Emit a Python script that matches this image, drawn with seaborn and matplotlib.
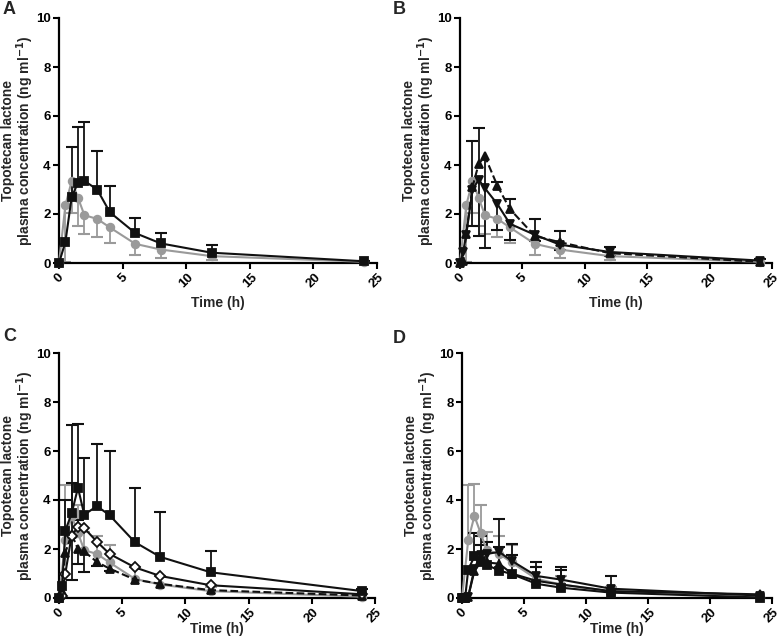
import numpy as np
import matplotlib
matplotlib.use("Agg")
import matplotlib.pyplot as plt
import seaborn as sns

sns.set_theme(style="ticks")
plt.rcParams['font.family'] = ['Liberation Sans', 'DejaVu Sans']
plt.rcParams['font.weight'] = 'bold'

N = np.nan
GREY = '#9a9a9a'
BLACK = '#111111'

# Time points (h)
t_ref = [0, 0.5, 1, 1.5, 2, 3, 4, 6, 8, 12, 24]
t_full = [0, 0.25, 0.5, 1, 1.5, 2, 3, 4, 6, 8, 12, 24]

# Reference series (grey circles), shared by all panels
ref_mean = [0, 2.35, 3.35, 2.65, 1.95, 1.8, 1.45, 0.78, 0.55, 0.28, 0.05]
ref_low = [N, 0.05, 2.05, 1.5, 1.2, 1.07, 0.8, 0.33, 0.22, 0.12, N]
ref_high = [N, 4.6, 4.65, 3.8, 2.7, 2.55, 2.15, 1.25, 0.9, 0.45, N]

# Panel A
a_sq = [0, 0.85, 2.7, 3.28, 3.35, 3.0, 2.07, 1.22, 0.8, 0.42, 0.07]
a_sq_high = [N, N, 4.75, 5.55, 5.77, 4.57, 3.15, 1.83, 1.22, 0.75, 0.1]

# Panel B
b_tri = [0, 0.1, 1.2, 3.1, 4.05, 4.35, 3.15, 2.2, 1.1, 0.85, 0.4, 0.05]
b_tri_high = [N, N, N, 5.0, 5.5, N, 3.3, 2.62, 1.8, 1.32, 0.65, 0.15]
b_tri_low = [N, N, N, N, N, 0.6, N, N, N, N, N, N]
b_inv = [0, 0.45, 1.15, 3.0, 3.4, 3.05, 2.4, 1.6, 1.15, 0.75, 0.45, 0.1]
b_inv_low = [N, N, N, 1.5, 1.1, N, 1.35, 0.95, 0.9, 0.55, 0.3, N]

# Panel C
c_sq = [0, 0.5, 2.75, 3.45, 4.5, 3.4, 3.75, 3.38, 2.28, 1.68, 1.05, 0.28]
c_sq_high = [N, N, 4.0, 7.05, 7.1, 5.7, 6.3, 6.0, 4.47, 3.5, 1.9, 0.35]
c_dia = [0, 0.1, 1.0, 2.55, 2.9, 2.85, 2.3, 1.8, 1.25, 0.9, 0.52, 0.15]
c_dia_high = [N, N, N, 4.7, 3.2, N, N, N, N, N, N, N]
c_tri = [0, 0.3, 1.85, 2.6, 2.0, 1.9, 1.47, 1.2, 0.75, 0.58, 0.32, 0.1]
c_tri_low = [N, N, N, 0.73, 1.4, 1.07, 1.3, 1.1, N, N, N, N]

# Panel D
d_sq = [0, 0, 1.15, 1.7, 1.5, 1.35, 1.12, 0.98, 0.58, 0.42, 0.22, 0.02]
d_sq_high = [N, N, N, 2.65, 2.55, N, N, N, N, N, N, N]
d_inv = [0, 0, 0.05, 1.2, 1.75, 1.8, 1.88, 1.52, 0.9, 0.75, 0.38, 0.1]
d_inv_high = [N, N, N, N, N, N, 3.22, 2.2, 1.45, 1.25, 0.88, N]
d_tri = [0, 0, 0.05, 1.1, 1.45, 1.45, 1.4, 1.0, 0.7, 0.55, 0.28, 0.15]
d_tri_high = [N, N, N, N, 2.15, 2.3, 2.1, 1.75, 1.25, 1.15, N, N]

fig = plt.figure(figsize=(7.81, 6.43), dpi=100)
W, H = 781, 643

def make_ax(left, right, top, bottom):
    return fig.add_axes([left / W, 1 - bottom / H, (right - left) / W, (bottom - top) / H])

axA = make_ax(59, 377, 18, 263)
axB = make_ax(460, 772, 18, 263)
axC = make_ax(59, 375, 353, 598)
axD = make_ax(462, 772, 353, 598)


def bars(ax, t, mean, ends, color):
    t = np.asarray(t, float)
    m = np.asarray(mean, float)
    e = np.asarray(ends, float)
    ok = ~np.isnan(e)
    ax.vlines(t[ok], m[ok], e[ok], color=color, lw=1.3, zorder=2)
    ax.plot(t[ok], e[ok], linestyle='none', marker='_', markersize=9,
            markeredgewidth=1.5, color=color, zorder=2)


def series(ax, t, vals, color, marker, ls='-', mfc=None, ms=5.5):
    sns.lineplot(x=t, y=vals, ax=ax, color=color, marker=marker, linestyle=ls,
                 linewidth=1.5, markersize=ms, markeredgecolor=color,
                 markerfacecolor=mfc if mfc else color, markeredgewidth=1.3,
                 zorder=3, estimator=None, sort=False)


def ref(ax, ends):
    bars(ax, t_ref, ref_mean, ends, GREY)
    series(ax, t_ref, ref_mean, GREY, 'o')

# Panel A
ref(axA, ref_low)
bars(axA, t_ref, a_sq, a_sq_high, BLACK)
series(axA, t_ref, a_sq, BLACK, 's')

# Panel B
ref(axB, ref_low)
bars(axB, t_full, b_tri, b_tri_high, BLACK)
bars(axB, t_full, b_tri, b_tri_low, BLACK)
bars(axB, t_full, b_inv, b_inv_low, BLACK)
series(axB, t_full, b_tri, BLACK, '^', ls='--')
series(axB, t_full, b_inv, BLACK, 'v')

# Panel C
ref(axC, ref_high)
bars(axC, t_full, c_sq, c_sq_high, BLACK)
bars(axC, t_full, c_dia, c_dia_high, BLACK)
bars(axC, t_full, c_tri, c_tri_low, BLACK)
series(axC, t_full, c_tri, BLACK, '^', ls='--')
series(axC, t_full, c_dia, BLACK, 'D', mfc='white', ms=5.5)
series(axC, t_full, c_sq, BLACK, 's')

# Panel D
ref(axD, ref_high)
bars(axD, t_full, d_sq, d_sq_high, BLACK)
bars(axD, t_full, d_inv, d_inv_high, BLACK)
bars(axD, t_full, d_tri, d_tri_high, BLACK)
series(axD, t_full, d_tri, BLACK, '^')
series(axD, t_full, d_inv, BLACK, 'v')
series(axD, t_full, d_sq, BLACK, 's')

ylab = 'Topotecan lactone\nplasma concentration (ng ml$^{\\mathbf{-1}}$)'
for ax, letter, xl_y in [(axA, 'A', -0.135), (axB, 'B', -0.135),
                         (axC, 'C', -0.1), (axD, 'D', -0.1)]:
    ax.set_xlim(0, 25)
    ax.set_ylim(0, 10)
    ax.set_xticks([0, 5, 10, 15, 20, 25])
    ax.set_yticks([0, 2, 4, 6, 8, 10])
    ax.tick_params(axis='both', direction='out', length=4, width=1.5,
                   labelsize=9.5, colors='black', pad=2)
    for lbl in ax.get_xticklabels():
        lbl.set_rotation(45)
        lbl.set_fontweight('bold')
    for lbl in ax.get_yticklabels():
        lbl.set_fontweight('bold')
    for s in ['top', 'right']:
        ax.spines[s].set_visible(False)
    for s in ['left', 'bottom']:
        ax.spines[s].set_linewidth(1.6)
        ax.spines[s].set_color('black')
    for art in ax.lines + ax.collections:
        art.set_clip_on(False)
    ax.set_xlabel('Time (h)', fontsize=10, fontweight='bold')
    ax.xaxis.set_label_coords(0.5, xl_y)
    ax.set_ylabel(ylab, fontsize=10, fontweight='bold', linespacing=1.0)
    ax.yaxis.set_label_coords(-0.072 * 318 / (ax.get_position().width * W), 0.5)
    ax.set_facecolor('white')

fig.text(3 / W, 1 - 1 / H, 'A', fontsize=13, fontweight='bold', va='top', ha='left')
fig.text(393 / W, 1 - 1 / H, 'B', fontsize=13, fontweight='bold', va='top', ha='left')
fig.text(3 / W, 1 - 328 / H, 'C', fontsize=13, fontweight='bold', va='top', ha='left')
fig.text(393 / W, 1 - 330 / H, 'D', fontsize=13, fontweight='bold', va='top', ha='left')

fig.savefig('out.png', dpi=100, facecolor='white')
